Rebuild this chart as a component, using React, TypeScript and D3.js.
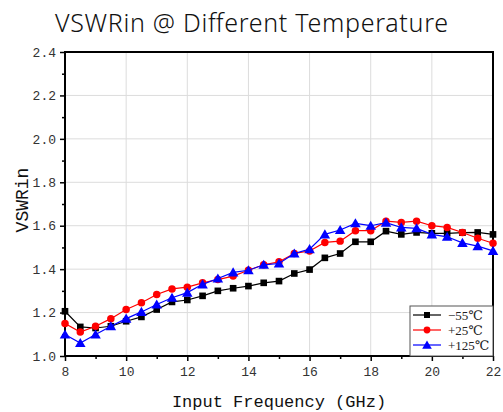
import * as React from 'react'
import {useEffect, useRef} from 'react'
import * as d3 from 'd3'

const freqs = [8, 8.5, 9, 9.5, 10, 10.5, 11, 11.5, 12, 12.5, 13, 13.5, 14, 14.5, 15, 15.5, 16, 16.5, 17, 17.5, 18, 18.5, 19, 19.5, 20, 20.5, 21, 21.5, 22]

const vswrMinus55 = [1.206, 1.134, 1.129, 1.137, 1.16, 1.18, 1.214, 1.249, 1.258, 1.277, 1.30, 1.312, 1.322, 1.337, 1.345, 1.38, 1.398, 1.452, 1.472, 1.526, 1.526, 1.575, 1.56, 1.569, 1.565, 1.565, 1.568, 1.569, 1.56]
const vswrPlus25 = [1.15, 1.11, 1.137, 1.172, 1.214, 1.245, 1.283, 1.309, 1.317, 1.337, 1.352, 1.368, 1.395, 1.42, 1.434, 1.472, 1.484, 1.523, 1.529, 1.577, 1.577, 1.621, 1.615, 1.621, 1.60, 1.592, 1.569, 1.542, 1.519]
const vswrPlus125 = [1.099, 1.06, 1.099, 1.137, 1.172, 1.203, 1.237, 1.268, 1.292, 1.33, 1.357, 1.385, 1.395, 1.42, 1.426, 1.472, 1.492, 1.56, 1.58, 1.611, 1.60, 1.614, 1.592, 1.588, 1.56, 1.549, 1.521, 1.506, 1.484]

const seriesNames = ['\u221255\u2103', '+25\u2103', '+125\u2103']
const seriesColors = ['#000000', '#ff0000', '#0000ff']
const seriesShapes = [d3.symbolSquare, d3.symbolCircle, d3.symbolTriangle]

const xTicks = [8, 10, 12, 14, 16, 18, 20, 22]
const yTicks = [1.0, 1.2, 1.4, 1.6, 1.8, 2.0, 2.2, 2.4]

const mono = '"Liberation Mono", "DejaVu Sans Mono", monospace'
const serif = '"Liberation Serif", "DejaVu Serif", serif'

const App = () => {
    const chartRef = useRef(null)

    useEffect(() => {
        const svg = d3.select(chartRef.current)
        svg.selectAll('*').remove()

        const left = 65, right = 493, top = 52, bottom = 356

        const xScale = d3.scaleLinear().domain([8, 22]).range([left, right])
        const yScale = d3.scaleLinear().domain([1.0, 2.4]).range([bottom, top])

        svg.append('rect').attr('width', 503).attr('height', 412).attr('fill', '#fff')

        // title
        svg.append('text')
            .attr('x', 55).attr('y', 32)
            .attr('textLength', 393)
            .attr('lengthAdjust', 'spacing')
            .style('font-family', '"Noto Sans", "DejaVu Sans", sans-serif')
            .style('font-size', '25px')
            .style('font-weight', 300)
            .attr('fill', '#111')
            .text('VSWRin @ Different Temperature')

        // grid
        const grid = svg.append('g').attr('stroke', '#dcdcdc').attr('stroke-width', 1)
        xTicks.slice(1, -1).forEach(t => {
            grid.append('line').attr('x1', xScale(t)).attr('x2', xScale(t)).attr('y1', top).attr('y2', bottom)
        })
        yTicks.slice(1, -1).forEach(t => {
            grid.append('line').attr('x1', left).attr('x2', right).attr('y1', yScale(t)).attr('y2', yScale(t))
        })

        // axes
        const xAxis = d3.axisBottom(xScale).tickValues(xTicks).tickSize(5).tickPadding(6).tickFormat(d3.format('d'))
        const xMinor = d3.axisBottom(xScale).tickValues(d3.range(9, 22, 2)).tickSize(3).tickFormat(() => '')
        const yAxis = d3.axisLeft(yScale).tickValues(yTicks).tickSize(5).tickPadding(4).tickFormat(d3.format('.1f'))
        const yMinor = d3.axisLeft(yScale).tickValues(d3.range(1.1, 2.4, 0.2)).tickSize(3).tickFormat(() => '')

        const styleAxis = (g) => {
            g.select('.domain').remove()
            g.selectAll('line').attr('stroke', '#000').attr('stroke-width', 1.5)
            g.selectAll('text').style('font-family', mono).style('font-size', '13px').attr('fill', '#333')
        }

        svg.append('g').attr('transform', `translate(0,${bottom})`).call(xAxis).call(styleAxis)
        svg.append('g').attr('transform', `translate(0,${bottom})`).call(xMinor).call(styleAxis)
        svg.append('g').attr('transform', `translate(${left},0)`).call(yAxis).call(styleAxis)
        svg.append('g').attr('transform', `translate(${left},0)`).call(yMinor).call(styleAxis)

        // frame
        svg.append('rect')
            .attr('x', left).attr('y', top)
            .attr('width', right - left).attr('height', bottom - top)
            .attr('fill', 'none').attr('stroke', '#000').attr('stroke-width', 2)

        // axis titles
        svg.append('text')
            .attr('x', (left + right) / 2).attr('y', 407)
            .attr('text-anchor', 'middle')
            .style('font-family', mono).style('font-size', '17px')
            .attr('fill', '#111')
            .text('Input Frequency (GHz)')

        svg.append('text')
            .attr('transform', `translate(28,${(top + bottom) / 2 - 4}) rotate(-90)`)
            .attr('text-anchor', 'middle')
            .style('font-family', mono).style('font-size', '18px')
            .attr('fill', '#111')
            .text('VSWRin')

        // series
        const allSeries = [vswrMinus55, vswrPlus25, vswrPlus125]
        const line = d3.line().x(d => xScale(d[0])).y(d => yScale(d[1]))

        allSeries.forEach((vals, i) => {
            const pts = freqs.map((f, j) => [f, vals[j]])
            svg.append('path')
                .attr('d', line(pts))
                .attr('fill', 'none')
                .attr('stroke', seriesColors[i])
                .attr('stroke-width', 1.2)
            const sym = d3.symbol().type(seriesShapes[i]).size(i == 2 ? 48 : 44)
            svg.selectAll('.m' + i)
                .data(pts)
                .enter()
                .append('path')
                .attr('class', 'm' + i)
                .attr('d', sym)
                .attr('transform', d => `translate(${xScale(d[0])},${yScale(d[1]) + (i == 2 ? 1 : 0)})`)
                .attr('fill', seriesColors[i])
        })

        // legend
        const lg = svg.append('g')
        lg.append('rect')
            .attr('x', 410).attr('y', 306).attr('width', right - 410).attr('height', bottom - 306)
            .attr('fill', '#fff').attr('stroke', '#555').attr('stroke-width', 1)
        seriesNames.forEach((name, i) => {
            const y = 315 + i * 15
            lg.append('line').attr('x1', 413).attr('x2', 441).attr('y1', y).attr('y2', y)
                .attr('stroke', seriesColors[i]).attr('stroke-width', 1.2)
            lg.append('path')
                .attr('d', d3.symbol().type(seriesShapes[i]).size(i == 2 ? 40 : 36))
                .attr('transform', `translate(427,${y + (i == 2 ? 1 : 0)})`)
                .attr('fill', seriesColors[i])
            lg.append('text')
                .attr('x', 448).attr('y', y + 5)
                .style('font-family', serif).style('font-size', '13px')
                .attr('fill', '#222')
                .text(name)
        })
    }, [])

    return (
        <svg ref={chartRef} width={503} height={412} style={{position: 'fixed', left: 0, top: 0}}></svg>
    )
}

export default App
